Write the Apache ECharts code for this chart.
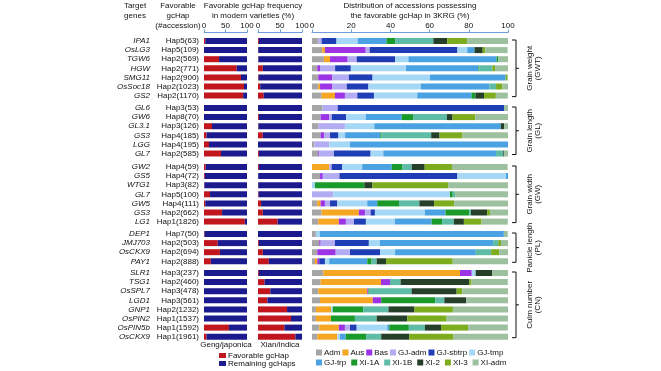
<!DOCTYPE html>
<html><head><meta charset="utf-8">
<script src="https://cdn.jsdelivr.net/npm/echarts@6/dist/echarts.min.js"></script>
<style>html,body{margin:0;padding:0;background:#fff}#c{width:661px;height:371px}</style>
</head><body><div id="c"></div>
<script>
// ---------------- DATA ----------------
const genes = ['IPA1','OsLG3','TGW6','HGW','SMG11','OsSoc18','GS2',
  'GL6','GW6','GL3.1','GS3','LGG','GL7',
  'GW2','GS5','WTG1','GL7','GW5','GS3','LG1',
  'DEP1','JMJ703','OsCKX9','PAY1',
  'SLR1','TSG1','OsSPL7','LGD1','GNP1','OsPIN2','OsPIN5b','OsCKX9'];
const haps = ['Hap5(63)','Hap5(109)','Hap2(569)','Hap2(771)','Hap2(900)','Hap2(1023)','Hap2(1170)',
  'Hap3(53)','Hap8(70)','Hap3(126)','Hap4(185)','Hap4(195)','Hap2(585)',
  'Hap4(59)','Hap4(72)','Hap3(82)','Hap5(100)','Hap4(111)','Hap2(662)','Hap1(1826)',
  'Hap7(50)','Hap2(503)','Hap2(694)','Hap2(888)',
  'Hap3(237)','Hap2(460)','Hap3(478)','Hap3(561)','Hap2(1232)','Hap1(1537)','Hap1(1592)','Hap1(1961)'];
const groupSizes = [7, 6, 7, 4, 8];
const groupLabels = ['Grain weight\n(GWT)','Grain length\n(GL)','Grain width\n(GW)','Panicle length\n(PL)','Culm number\n(CN)'];

// favorable gcHap frequency (%) in modern varieties
const japonicaFav = [3, 0, 35, 76, 86, 93, 91, 0, 0, 18.6, 6, 11.6, 39.5, 4, 2, 1, 14, 3, 42, 95, 1.5, 32, 37, 16, 0, 0, 0, 0, 0, 0, 58, 6];
const indicaFav   = [2, 0.5, 1, 11, 1.5, 5, 13, 0, 2, 1, 11, 0, 2, 2, 0.5, 0.5, 1.5, 7, 11, 44.6, 0, 2, 11, 24.6, 2, 15, 28, 21.5, 66, 75, 60, 85];

// distribution of accessions possessing the favorable gcHap in 3KRG (%)
const populations = ['Adm','Aus','Bas','GJ-adm','GJ-sbtrp','GJ-tmp','GJ-trp','XI-1A','XI-1B','XI-2','XI-3','XI-adm'];
const adm    = [3.2,5.2,6.1,2.7,3.2,3.2,4.9, 5.4,4.4,3.2,4.4,1.2,3.2, 0,4.1,0,0,2.7,4.9,3.2, 2,3.7,2.7,1.5, 5.8,4.4,3.2,4.1,2,2,3.7,2.7];
const aus    = [0,1.4,3.1,0,0,0.9,6.8, 0,0,0,0,0,0, 8.8,0,0,0,1.7,19,10.5, 0,0,0,1.2, 69.7,30.8,25,26.9,7.7,7.7,10,10.2];
const bas    = [0,20.8,9,1.4,7.1,6.3,5.1, 0,4.3,0,1.7,0,0.5, 0,1.4,0,0,2.2,3.1,3.6, 0,0.7,9.4,1, 6,4.6,0.5,4.3,0,0,3.1,0];
const gjAdm  = [1.7,2,4.6,7.7,8.5,7.3,6.3, 7.7,1.4,13.6,3.1,7.7,7.5, 1.2,8.5,0,10.9,2.6,2.9,4.1, 0,7.3,7.3,0, 0,0,0,0,0,0,2.6,0];
const gjSbtrp= [7.6,44.8,19.6,8,12.1,11.1,8.5, 84.9,7.3,0,4.3,0,18.7, 5.4,60.2,0,0,3.7,2.2,6.1, 0,17.3,15.3,2.9, 0,0,0,0,0,0,3.4,0];
const gjTmp  = [10.8,5,6.8,28.2,29.3,26.7,22.1, 0,10,15,3.4,10.5,6.5, 10.2,24.8,1.5,59.5,15.3,25.5,14.8, 2,5.6,7.7,2.2, 2,0,0,0,0.9,0,15.6,1.4];
const gjTrp  = [14.7,3.7,45,36.9,38.6,35,27.7, 0,18.4,64.5,17.9,80.6,57.5, 15.1,1,0,0,5.1,10.5,18.7, 93.9,57.8,41.2,19.4, 0,0,0,0,0,0,1,2.9];
const xi1A   = [4.6,0,0.9,0.5,0,0,2, 0,6,0,0.5,0,0, 5.3,0,25.2,1.4,11.1,12.1,5.4, 0,0,0,2.2, 0,0,0.3,27.6,15.6,12.2,10,10.4];
const xi1B   = [19.3,0,0,6.6,0,3.4,0, 0,17,0,25.5,0,3.7, 4.9,0,0,1.2,10.4,0.9,6, 0,2.6,7.8,2.6, 0,5.4,21.8,4.6,12.8,11.1,8.2,7.7];
const xi2    = [7.1,4.2,0,0,0,0,4.4, 0,2.9,1.7,4.3,0,0.5, 6.6,0,4.1,0,7.5,8.3,5.1, 0,0,0,4.8, 8.5,35,23,11.2,13.3,15.6,8.2,14.3];
const xi3    = [10.2,1.4,0,1.4,0.9,3.2,6, 0,11.6,0,11.7,0,0, 13.9,0,38.8,0,10.2,1.4,9, 0,1.4,4.1,34, 0,1.2,2.9,0,19.6,20.1,13.9,22.6];
const xiAdm  = [20.8,11.3,4.9,6.6,0.3,2.9,6.1, 2,16.8,2,23.3,0,1.9, 28.4,0,30.4,27,27.6,9.2,13.4, 2,3.6,4.6,28.2, 8,18.5,23.3,21.4,28.2,31.3,20.2,27.9];
const popValues = [adm, aus, bas, gjAdm, gjSbtrp, gjTmp, gjTrp, xi1A, xi1B, xi2, xi3, xiAdm];

// ---------------- STYLE / LAYOUT ----------------
const FONT = '"Liberation Sans", Arial, Helvetica, sans-serif';
const FS = 8;
const popColors = ['#a6a6a6','#f5a623','#9c34e6','#b4acf2','#1f3db5','#a5d7f6','#4aa2e3','#1a9a2a','#5dbba6','#263f28','#7dac1f','#9dc09f'];
const favColor = '#c1161e', remColor = '#1b1b8f';
const axisColor = '#6e9ed8';
const rowStep = 9.1;
const groupFirstRow = [41, 108, 167, 234, 273];
const panels = [{left: 204, width: 43}, {left: 258, width: 44}, {left: 312, width: 196}];

const grids = [], xAxes = [], yAxes = [], series = [];
let start = 0;
groupSizes.forEach((n, g) => {
  const top = groupFirstRow[g] - rowStep / 2;
  const idxs = [];
  for (let i = 0; i < n; i++) idxs.push(start + i);
  const cats = idxs.map(i => genes[i]);
  panels.forEach((p, k) => {
    const gi = g * 3 + k;
    grids.push({left: p.left, width: p.width, top: top, height: n * rowStep, containLabel: false});
    xAxes.push({
      gridIndex: gi, type: 'value', min: 0, max: 100, interval: k < 2 ? 50 : 20,
      show: g === 0, position: 'top', offset: 4,
      axisLine: {show: true, lineStyle: {color: axisColor, width: 1}},
      axisTick: {show: true, length: 3, lineStyle: {color: axisColor}},
      axisLabel: {fontSize: FS, margin: 3, color: '#111', fontFamily: FONT},
      splitLine: {show: false}
    });
    const yA = {
      gridIndex: gi, type: 'category', inverse: true, data: cats,
      axisLine: {show: false}, axisTick: {show: false}, splitLine: {show: false}
    };
    if (k === 0) {
      yA.axisLabel = {
        interval: 0, margin: 5, fontSize: FS, color: '#111', fontFamily: FONT,
        formatter: (v, i) => '{g|' + v + '}{h|' + haps[idxs[i]] + '}',
        rich: {
          g: {width: 60, align: 'right', fontStyle: 'italic', fontSize: FS, fontFamily: FONT, color: '#111'},
          h: {width: 49, align: 'right', fontSize: FS, fontFamily: FONT, color: '#111'}
        }
      };
    } else {
      yA.axisLabel = {show: false};
    }
    yAxes.push(yA);
    if (k < 2) {
      const fav = idxs.map(i => (k === 0 ? japonicaFav : indicaFav)[i]);
      series.push({type: 'bar', name: 'Favorable gcHap', xAxisIndex: gi, yAxisIndex: gi, stack: 'f' + gi,
        barWidth: 6, data: fav, itemStyle: {color: favColor}, silent: true, animation: false});
      series.push({type: 'bar', name: 'Remaining gcHaps', xAxisIndex: gi, yAxisIndex: gi, stack: 'f' + gi,
        barWidth: 6, data: fav.map(v => 100 - v), itemStyle: {color: remColor}, silent: true, animation: false});
    } else {
      populations.forEach((pop, j) => {
        series.push({type: 'bar', name: pop, xAxisIndex: gi, yAxisIndex: gi, stack: 'd' + gi,
          barWidth: 6, data: idxs.map(i => popValues[j][i]), itemStyle: {color: popColors[j]},
          silent: true, animation: false});
      });
    }
  });
  start += n;
});

const txt = (x, y, text, extra) => Object.assign({
  type: 'text', x: x, y: y, silent: true,
  style: Object.assign({text: text, fontSize: FS, fontFamily: FONT, fill: '#111',
    textAlign: 'center', textVerticalAlign: 'middle', lineHeight: 10}, extra || {})
});

const headerGraphics = [
  txt(135, 10.5, 'Target\ngenes'),
  txt(178, 15.5, 'Favorable\ngcHap\n(#accession)'),
  txt(253, 10.5, 'Favorable gcHap frequency\nin modern varieties (%)'),
  txt(410, 10.5, 'Distribution of accessions possessing\nthe favorable gcHap in 3KRG (%)'),
  txt(226, 345, 'Geng/japonica'),
  txt(280, 345, 'Xian/indica')
];

const legendText = {fontSize: FS, fontFamily: FONT, color: '#111', padding: [0, 0, 0, -3]};
const legBase = {icon: 'rect', padding: 0, selectedMode: false, textStyle: legendText};
const option = {
  animation: false,
  backgroundColor: '#fff',
  grid: grids, xAxis: xAxes, yAxis: yAxes, series: series,
  legend: [
    Object.assign({data: ['Favorable gcHap'], left: 219, top: 351.5, itemWidth: 7, itemHeight: 5}, legBase),
    Object.assign({data: ['Remaining gcHaps'], left: 219, top: 359.5, itemWidth: 7, itemHeight: 5}, legBase),
    Object.assign({data: populations.slice(0, 6), left: 316, top: 348.5, itemWidth: 6, itemHeight: 6, itemGap: 2}, legBase),
    Object.assign({data: populations.slice(6), left: 316, top: 358.5, itemWidth: 6, itemHeight: 6, itemGap: 5}, legBase)
  ],
  graphic: headerGraphics
};

const chart = echarts.init(document.getElementById('c'));
chart.setOption(option);

// brackets and group labels, positioned from the axes
const bracketGraphics = [];
groupSizes.forEach((n, g) => {
  const yi = g * 3 + 2;
  const y1 = chart.convertToPixel({yAxisIndex: yi}, 0) - 1;
  const y2 = chart.convertToPixel({yAxisIndex: yi}, n - 1) + 1;
  const xr = chart.convertToPixel({xAxisIndex: yi}, 100) + 8;
  const mid = (y1 + y2) / 2;
  const ls = {stroke: '#111', lineWidth: 1, fill: null};
  bracketGraphics.push({type: 'polyline', silent: true,
    shape: {points: [[xr - 4, y1], [xr, y1], [xr, y2], [xr - 4, y2]]}, style: ls});
  bracketGraphics.push({type: 'line', silent: true,
    shape: {x1: xr, y1: mid, x2: xr + 3, y2: mid}, style: ls});
  bracketGraphics.push(Object.assign(txt(xr + 18, mid, groupLabels[g], {lineHeight: 8.5}), {rotation: Math.PI / 2}));
});
chart.setOption({graphic: headerGraphics.concat(bracketGraphics)}, {replaceMerge: ['graphic']});
</script></body></html>
